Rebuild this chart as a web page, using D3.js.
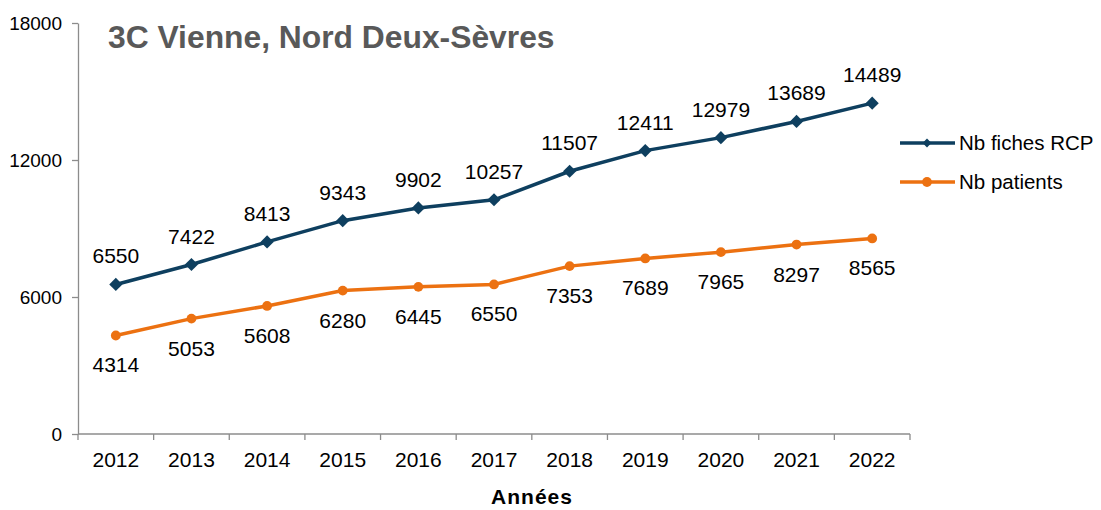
<!DOCTYPE html>
<html lang="fr">
<head>
<meta charset="utf-8">
<title>3C Vienne, Nord Deux-Sèvres</title>
<style>
  body { margin: 0; background: #fff; }
  svg { font-family: "Liberation Sans", Arial, sans-serif; }
  .axis path, .axis line { stroke: #8c8c8c; stroke-width: 1.3; }
  .axis text { fill: #000; font-family: "Liberation Sans", Arial, sans-serif; }
  .axis-y text { font-size: 19px; }
  .axis-x text { font-size: 21px; }
</style>
</head>
<body>
<svg id="chart" width="1101" height="510"></svg>
<script src="https://d3js.org/d3.v7.min.js"></script>
<script>
// données
var annees = ["2012", "2013", "2014", "2015", "2016", "2017", "2018", "2019", "2020", "2021", "2022"];
var fichesRCP = [6550, 7422, 8413, 9343, 9902, 10257, 11507, 12411, 12979, 13689, 14489];
var patients = [4314, 5053, 5608, 6280, 6445, 6550, 7353, 7689, 7965, 8297, 8565];
var yTicks = [0, 6000, 12000, 18000];

var svg = d3.select("#chart"),
    margin = {top: 23, left: 78, right: 191, bottom: 76},
    w = 1101 - margin.left - margin.right,
    h = 510 - margin.top - margin.bottom;

var g = svg.append("g").attr("transform", "translate(" + margin.left + "," + margin.top + ")");

var x = d3.scaleBand().domain(annees).range([0, w]);
var y = d3.scaleLinear().domain([0, 18000]).range([h, 0]);

// axes
g.append("g")
  .attr("class", "axis axis-y")
  .call(d3.axisLeft(y).tickValues(yTicks).tickFormat(d3.format("d")).tickSize(6).tickSizeOuter(0).tickPadding(10));

var xAxis = g.append("g")
  .attr("class", "axis axis-x")
  .attr("transform", "translate(0," + h + ")")
  .call(d3.axisBottom(x).tickSize(0).tickPadding(18));
xAxis.select(".domain").attr("d", "M0,0H" + w);
xAxis.selectAll(".bt")
  .data(d3.range(annees.length + 1))
  .enter().append("line")
  .attr("class", "bt")
  .attr("x1", function(i) { return i * x.step(); })
  .attr("x2", function(i) { return i * x.step(); })
  .attr("y1", 0).attr("y2", 6);

// séries
var series = [
  {name: "Nb fiches RCP", values: fichesRCP, color: "#0e3f5f", marker: "diamond", dy: -21},
  {name: "Nb patients", values: patients, color: "#ec7111", marker: "circle", dy: 37}
];

var line = d3.line()
  .x(function(d, i) { return x(annees[i]) + x.bandwidth() / 2; })
  .y(function(d) { return y(d); });

series.forEach(function(s) {
  g.append("path")
    .datum(s.values)
    .attr("fill", "none")
    .attr("stroke", s.color)
    .attr("stroke-width", 3.5)
    .attr("d", line);

  var sym = s.marker === "diamond" ? d3.symbol().type(d3.symbolDiamond2).size(110)
                                   : d3.symbol().type(d3.symbolCircle).size(75);
  g.selectAll(null)
    .data(s.values)
    .enter().append("path")
    .attr("d", sym)
    .attr("fill", s.color)
    .attr("transform", function(d, i) {
      return "translate(" + (x(annees[i]) + x.bandwidth() / 2) + "," + y(d) + ")";
    });

  g.selectAll(null)
    .data(s.values)
    .enter().append("text")
    .attr("x", function(d, i) { return x(annees[i]) + x.bandwidth() / 2; })
    .attr("y", function(d) { return y(d) + s.dy; })
    .attr("text-anchor", "middle")
    .style("font-size", "21px")
    .text(function(d) { return d; });
});

// légende
var leg = svg.append("g").attr("transform", "translate(900,143)");
series.forEach(function(s, i) {
  var r = leg.append("g").attr("transform", "translate(0," + (i * 39) + ")");
  r.append("line").attr("x1", 0).attr("x2", 55).attr("stroke", s.color).attr("stroke-width", 3.5);
  r.append("path")
    .attr("d", s.marker === "diamond" ? d3.symbol().type(d3.symbolDiamond2).size(50)()
                                      : d3.symbol().type(d3.symbolCircle).size(75)())
    .attr("fill", s.color)
    .attr("transform", "translate(27,0)");
  r.append("text").attr("x", 59).attr("y", 7).style("font-size", "20.5px").text(s.name);
});

// titres
svg.append("text")
  .attr("x", 108).attr("y", 48)
  .style("font-size", "31.8px").style("font-weight", "bold").attr("fill", "#595959")
  .text("3C Vienne, Nord Deux-Sèvres");

svg.append("text")
  .attr("x", 532).attr("y", 504)
  .attr("text-anchor", "middle")
  .style("font-size", "21px").style("font-weight", "bold").style("letter-spacing", "1px")
  .text("Années");
</script>
</body>
</html>
